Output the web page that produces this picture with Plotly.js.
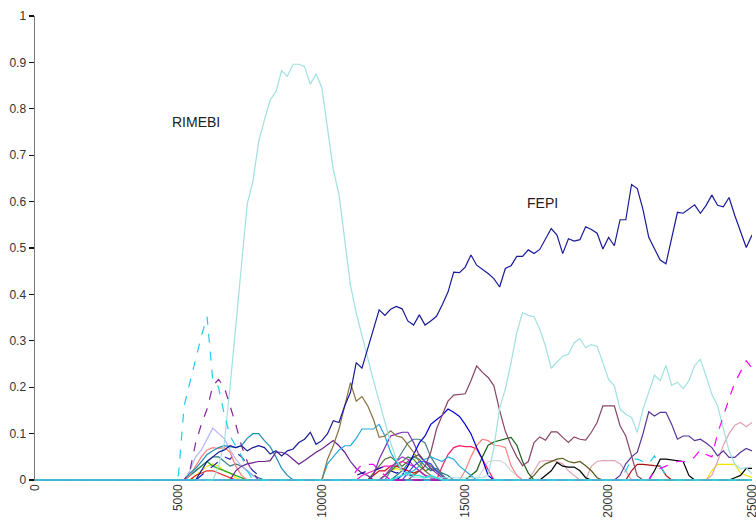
<!DOCTYPE html>
<html>
<head>
<meta charset="utf-8">
<script src="https://cdn.plot.ly/plotly-3.0.1.min.js"></script>
<style>html,body{margin:0;padding:0;background:#fff;}#chart{width:756px;height:523px;}</style>
</head>
<body>
<div id="chart"></div>
<script>
// ---- data: values sampled every 200 units; each series lists its first x and its values ----
const STEP = 200;
const XMAX = 25000;
const xTickVals = [0, 5000, 10000, 15000, 20000, 25000];
const yTickVals = [0, 0.1, 0.2, 0.3, 0.4, 0.5, 0.6, 0.7, 0.8, 0.9, 1];
const yTickText = ['0', '0.1', '0.2', '0.3', '0.4', '0.5', '0.6', '0.7', '0.8', '0.9', '1'];
const labelRimebi = {text: 'RIMEBI', x: 5630, y: 0.771};
const labelFepi = {text: 'FEPI', x: 17680, y: 0.598};

const rimebiStart = 6200;
const rimebi = [0, 0.03, 0.08, 0.2, 0.33, 0.47, 0.595, 0.644, 0.73, 0.776, 0.819, 0.837, 0.882, 0.87, 0.896, 0.896, 0.891, 0.853, 0.875, 0.846, 0.755, 0.669, 0.615, 0.518, 0.42, 0.36, 0.31, 0.265, 0.215, 0.17, 0.125, 0.08, 0.045, 0.02, 0.01, 0.005, 0.005, 0.005, 0.005, 0.005, 0.005, 0.005, 0.005, 0.005, 0.005, 0.005, 0.005, 0.005, 0.01, 0.07, 0.155, 0.196, 0.253, 0.318, 0.361, 0.355, 0.352, 0.325, 0.289, 0.241, 0.254, 0.267, 0.271, 0.296, 0.305, 0.285, 0.292, 0.288, 0.253, 0.217, 0.203, 0.153, 0.142, 0.135, 0.103, 0.153, 0.189, 0.226, 0.214, 0.247, 0.204, 0.211, 0.197, 0.214, 0.247, 0.26, 0.224, 0.185, 0.16, 0.11, 0.063, 0.034, 0.024, 0.027, 0.013];

const fepiStart = 5600;
const fepi = [0, 0.02, 0.04, 0.05, 0.06, 0.065, 0.074, 0.07, 0.074, 0.063, 0.07, 0.074, 0.07, 0.056, 0.063, 0.052, 0.063, 0.067, 0.081, 0.088, 0.103, 0.077, 0.085, 0.1, 0.128, 0.124, 0.16, 0.189, 0.253, 0.241, 0.285, 0.323, 0.367, 0.355, 0.368, 0.374, 0.369, 0.343, 0.334, 0.356, 0.334, 0.343, 0.353, 0.378, 0.405, 0.448, 0.447, 0.459, 0.485, 0.463, 0.454, 0.445, 0.434, 0.416, 0.456, 0.462, 0.482, 0.482, 0.496, 0.488, 0.497, 0.52, 0.542, 0.528, 0.488, 0.52, 0.515, 0.518, 0.546, 0.54, 0.532, 0.498, 0.523, 0.505, 0.561, 0.561, 0.637, 0.628, 0.583, 0.523, 0.498, 0.474, 0.466, 0.525, 0.577, 0.575, 0.585, 0.593, 0.575, 0.592, 0.614, 0.592, 0.589, 0.609, 0.57, 0.533, 0.501, 0.528];

const cyanDashStart = 4800;
const cyanDash = [0, 0.01, 0.16, 0.21, 0.26, 0.31, 0.352, 0.214, 0.2, 0.142, 0.095, 0.074, 0.052, 0.02, 0];
const cyanDash2Start = 20400;
const cyanDash2 = [0, 0.02, 0.045, 0.045, 0.04, 0.035, 0.052, 0.03, 0.01, 0];

const purpleDashStart = 5200;
const purpleDash = [0, 0.02, 0.08, 0.12, 0.153, 0.203, 0.217, 0.2, 0.16, 0.12, 0.074, 0.04, 0.015, 0];

const plumStart = 13000;
const plum = [0, 0.01, 0.02, 0.03, 0.06, 0.11, 0.14, 0.17, 0.183, 0.185, 0.186, 0.214, 0.246, 0.232, 0.221, 0.203, 0.15, 0.105, 0.075, 0.05, 0.031, 0.04, 0.081, 0.093, 0.086, 0.104, 0.104, 0.092, 0.081, 0.093, 0.088, 0.086, 0.103, 0.124, 0.16, 0.16, 0.16, 0.117, 0.095, 0.052, 0.009, 0];

const indigoStart = 20200;
const indigo = [0, 0.01, 0.035, 0.05, 0.06, 0.1, 0.147, 0.138, 0.146, 0.146, 0.12, 0.088, 0.095, 0.095, 0.085, 0.088, 0.08, 0.07, 0.052, 0.063, 0.049, 0.049, 0.06, 0.068, 0.063];

const magentaDashStart = 21400;
const magentaDash = [0, 0.02, 0.025, 0.03, 0.035, 0.04, 0.04, 0.04, 0.05, 0.065, 0.055, 0.05, 0.1, 0.14, 0.175, 0.21, 0.235, 0.257, 0.242];
const magentaDash2Start = 11000;
const magentaDash2 = [0, 0.02, 0.034, 0.034, 0.034, 0.02, 0.01, 0];

const pinkStart = 23400;
const pink = [0, 0.01, 0.04, 0.075, 0.1, 0.118, 0.124, 0.115, 0.124];
const pink2Start = 17200;
const pink2 = [0, 0.02, 0.04, 0.042, 0.042, 0.04, 0.035, 0.02, 0.01, 0, 0, 0.03, 0.04, 0.042, 0.042, 0.042, 0.035, 0.02, 0];

const brownStart = 9800;
const brown = [0, 0, 0.045, 0.074, 0.11, 0.16, 0.21, 0.17, 0.18, 0.16, 0.131, 0.092, 0.095, 0.106, 0.095, 0.092, 0.077, 0.06, 0.04, 0.02, 0.01, 0];

const skyStart = 10000;
const sky = [0, 0.035, 0.05, 0.065, 0.074, 0.074, 0.09, 0.11, 0.11, 0.11, 0.12, 0.095, 0.06, 0.038, 0.02, 0.015, 0.02, 0.03, 0.045, 0.05, 0.045, 0.04, 0.05, 0.045, 0.03, 0.02, 0.01, 0];

const blueStart = 12600;
const blue = [0, 0.01, 0.03, 0.055, 0.08, 0.095, 0.12, 0.13, 0.14, 0.153, 0.146, 0.137, 0.12, 0.1, 0.07, 0.045, 0.01, 0];

const purpleStart = 6800;
const purple = [0, 0.02, 0.03, 0.035, 0.038, 0.04, 0.04, 0.042, 0.06, 0.06, 0.055, 0.045, 0.034, 0.042, 0.052, 0.06, 0.067, 0.077, 0.085, 0.074, 0.06, 0.04, 0.025, 0.015, 0.01, 0];

const violetStart = 11600;
const violet = [0, 0.01, 0.045, 0.07, 0.095, 0.099, 0.103, 0.103, 0.081, 0.052, 0.038, 0.025, 0.015, 0.005, 0];

const cadetStart = 12200;
const cadet = [0, 0.02, 0.04, 0.06, 0.08, 0.088, 0.088, 0.08, 0.05, 0.03, 0.01, 0];

const tealStart = 5200;
const teal = [0, 0.015, 0.025, 0.04, 0.055, 0.063, 0.07, 0.074, 0.072, 0.07, 0.074, 0.09, 0.1, 0.1, 0.085, 0.072, 0.05, 0.025, 0.01, 0];

const lavenderStart = 5200;
const lavender = [0, 0.02, 0.05, 0.065, 0.09, 0.112, 0.1, 0.09, 0.065, 0.045, 0.03, 0.02, 0.01, 0];

const salmonStart = 5200;
const salmon = [0, 0.01, 0.03, 0.05, 0.065, 0.07, 0.068, 0.07, 0.06, 0.03, 0.01, 0];
const salmon2Start = 14800;
const salmon2 = [0, 0.02, 0.05, 0.075, 0.088, 0.085, 0.075, 0.074, 0.07, 0.031, 0.01, 0];

const crimsonStart = 14000;
const crimson = [0, 0.03, 0.055, 0.07, 0.074, 0.072, 0.072, 0.067, 0.045, 0.02, 0];

const darkGreenStart = 15000;
const darkGreen = [0, 0.01, 0.02, 0.05, 0.075, 0.082, 0.085, 0.088, 0.092, 0.075, 0.04, 0.015, 0];

const lightGrayStart = 15400;
const lightGray = [0, 0.02, 0.04, 0.042, 0.042, 0.035, 0.02, 0.01, 0];

const oliveStart = 17200;
const olive = [0, 0.01, 0.025, 0.035, 0.04, 0.045, 0.047, 0.04, 0.037, 0.04, 0.031, 0.02, 0.005, 0];

const blackStart = 17600;
const black = [0, 0.01, 0.02, 0.038, 0.03, 0.028, 0.028, 0.02, 0.005, 0];
const black2Start = 21400;
const black2 = [0, 0.02, 0.045, 0.045, 0.043, 0.042, 0.04, 0.01, 0];
const black3Start = 24200;
const black3 = [0, 0.005, 0.01, 0.025, 0.025];

const darkRedStart = 20600;
const darkRed = [0, 0.02, 0.034, 0.034, 0.032, 0.031, 0.03, 0.01, 0];

const yellowStart = 5400;
const yellow = [0, 0.01, 0.02, 0.03, 0.035, 0.03, 0.02, 0.015, 0.005, 0];
const yellow2Start = 23400;
const yellow2 = [0, 0.02, 0.034, 0.034, 0.034, 0.034, 0.015, 0.01, 0.005];
const yellow3Start = 12000;
const yellow3 = [0, 0.01, 0.02, 0.025, 0.02, 0.015, 0.01, 0.02, 0.01, 0.005, 0];

const greenStart = 5200;
const green = [0, 0.01, 0.02, 0.03, 0.04, 0.03, 0.025, 0.02, 0.015, 0.01, 0.005, 0];
const green2Start = 12000;
const green2 = [0, 0.01, 0.02, 0.03, 0.04, 0.05, 0.045, 0.03, 0.02, 0.025, 0.02, 0.01, 0];

const redStart = 5400;
const red = [0, 0.01, 0.015, 0.02, 0.02, 0.015, 0.01, 0.005, 0];
const red2Start = 11600;
const red2 = [0, 0.01, 0.02, 0.02, 0.03, 0.03, 0.025, 0.02, 0.015, 0.02, 0.01, 0.005, 0];

const darkTealStart = 5200;
const darkTeal = [0, 0.01, 0.02, 0.03, 0.04, 0.05, 0.05, 0.04, 0.03, 0.035, 0.03, 0.02, 0.01, 0.005, 0];
const darkTeal2Start = 12400;
const darkTeal2 = [0, 0.01, 0.02, 0.035, 0.05, 0.045, 0.03, 0.02, 0.025, 0.015, 0.01, 0];

const navyDashStart = 5600;
const navyDash = [0, 0.01, 0.02, 0.03, 0.04, 0.05, 0.045, 0.06, 0.05, 0.035, 0.02, 0.01, 0];
const navyDash2Start = 11000;
const navyDash2 = [0, 0.01, 0.015, 0.02, 0.02, 0.025, 0.03, 0.02, 0.015, 0.02, 0.01, 0.01, 0.005, 0];

const magentaStart = 11200;
const magenta = [0, 0.01, 0.015, 0.02, 0.025, 0.03, 0.03, 0.035, 0.04, 0.035, 0.03, 0.02, 0.01, 0.005, 0];

const darkOliveStart = 11600;
const darkOlive = [0, 0.015, 0.03, 0.045, 0.05, 0.04, 0.03, 0.04, 0.05, 0.055, 0.04, 0.03, 0.02, 0.01, 0];

const orchidStart = 12000;
const orchid = [0, 0.01, 0.025, 0.04, 0.05, 0.045, 0.03, 0.02, 0.01, 0.005, 0];

const royalStart = 12800;
const royal = [0, 0.015, 0.03, 0.04, 0.04, 0.035, 0.02, 0.01, 0];

const baselineStart = 12400;
const baseline = [0, 0.005, 0.01, 0.015, 0.01, 0.01, 0.005, 0.01, 0.005, 0];

// ---- traces ----
function buildXY(start, vals) {
  const xs = [], ys = [];
  if (start > 0) { xs.push(0); ys.push(0); }
  vals.forEach(function (v, k) { xs.push(start + k * STEP); ys.push(v); });
  if (xs[xs.length - 1] < XMAX) { xs.push(XMAX); ys.push(0); }
  return {x: xs, y: ys};
}
const specs = [
  [yellowStart, yellow, '#f2e200', 'solid'],
  [greenStart, green, '#22aa22', 'solid'],
  [redStart, red, '#dd2222', 'solid'],
  [darkTealStart, darkTeal, '#2a7a7a', 'solid'],
  [navyDashStart, navyDash, '#2222bb', 'dash'],
  [lavenderStart, lavender, '#b4b4ff', 'solid'],
  [salmonStart, salmon, '#ff7b7b', 'solid'],
  [tealStart, teal, '#1f8fb5', 'solid'],
  [purpleStart, purple, '#6a2090', 'solid'],
  [yellow3Start, yellow3, '#f2e200', 'solid'],
  [green2Start, green2, '#2a8a2a', 'solid'],
  [red2Start, red2, '#cc1111', 'solid'],
  [darkTeal2Start, darkTeal2, '#208080', 'solid'],
  [magentaStart, magenta, '#ff22cc', 'solid'],
  [darkOliveStart, darkOlive, '#556b2f', 'solid'],
  [orchidStart, orchid, '#9932cc', 'solid'],
  [royalStart, royal, '#3344ff', 'solid'],
  [navyDash2Start, navyDash2, '#1111aa', 'dash'],
  [magentaDash2Start, magentaDash2, '#ff00ff', 'dash'],
  [lightGrayStart, lightGray, '#d6d6d6', 'solid'],
  [pink2Start, pink2, '#e0a8b4', 'solid'],
  [oliveStart, olive, '#5a5a1a', 'solid'],
  [blackStart, black, '#000000', 'solid'],
  [darkRedStart, darkRed, '#aa1010', 'solid'],
  [cyanDash2Start, cyanDash2, '#22ccee', 'dash'],
  [black2Start, black2, '#000000', 'solid'],
  [yellow2Start, yellow2, '#f2e200', 'solid'],
  [black3Start, black3, '#000000', 'solid'],
  [crimsonStart, crimson, '#ff1a66', 'solid'],
  [salmon2Start, salmon2, '#ff8080', 'solid'],
  [darkGreenStart, darkGreen, '#1a5e1a', 'solid'],
  [cadetStart, cadet, '#4a8080', 'solid'],
  [violetStart, violet, '#7a2ab0', 'solid'],
  [skyStart, sky, '#22aadd', 'solid'],
  [blueStart, blue, '#0000dd', 'solid'],
  [brownStart, brown, '#8b7040', 'solid'],
  [pinkStart, pink, '#e0a0b0', 'solid'],
  [indigoStart, indigo, '#553399', 'solid'],
  [plumStart, plum, '#884466', 'solid'],
  [rimebiStart, rimebi, '#a0e0e0', 'solid'],
  [fepiStart, fepi, '#1a1a99', 'solid'],
  [magentaDashStart, magentaDash, '#ff00ff', 'dash'],
  [cyanDashStart, cyanDash, '#22ccee', 'dash'],
  [purpleDashStart, purpleDash, '#882299', 'dash'],
  [baselineStart, baseline, '#33dddd', 'solid']
];
const traces = specs.map(function (s, idx) {
  const xy = buildXY(s[0], s[1]);
  const last = idx === specs.length - 1;
  return {x: xy.x, y: xy.y, type: 'scatter', mode: 'lines', hoverinfo: 'skip',
          line: {color: s[2], width: last ? 1.5 : 1.2, dash: s[3]}, showlegend: false};
});

const layout = {
  width: 756, height: 523,
  margin: {l: 35, r: 4, t: 16, b: 42, pad: 0},
  paper_bgcolor: '#ffffff', plot_bgcolor: '#ffffff',
  showlegend: false,
  font: {family: 'Liberation Sans, Arial, sans-serif', size: 12, color: '#333333'},
  xaxis: {range: [0, XMAX], tickvals: xTickVals, ticktext: xTickVals.map(String), tickangle: -90,
          showgrid: false, zeroline: false, showline: false, ticks: '', ticklen: 0,
          ticklabeloverflow: 'allow',
          tickfont: {size: 12, color: '#333333'}},
  yaxis: {range: [-0.002, 1], tickvals: yTickVals, ticktext: yTickText,
          showgrid: false, zeroline: false, showline: true, linecolor: '#777777', linewidth: 1.5,
          ticks: 'outside', ticklen: 5, tickcolor: '#111111', tickwidth: 1.2,
          tickfont: {size: 12, color: '#333333'}},
  annotations: [labelRimebi, labelFepi].map(function (a) {
    return {text: a.text, x: a.x, y: a.y, xref: 'x', yref: 'y', showarrow: false,
            font: {family: 'Liberation Sans, Arial, sans-serif', size: 14, color: '#222222'}};
  })
};
Plotly.newPlot('chart', traces, layout, {staticPlot: true, displayModeBar: false});
</script>
</body>
</html>
